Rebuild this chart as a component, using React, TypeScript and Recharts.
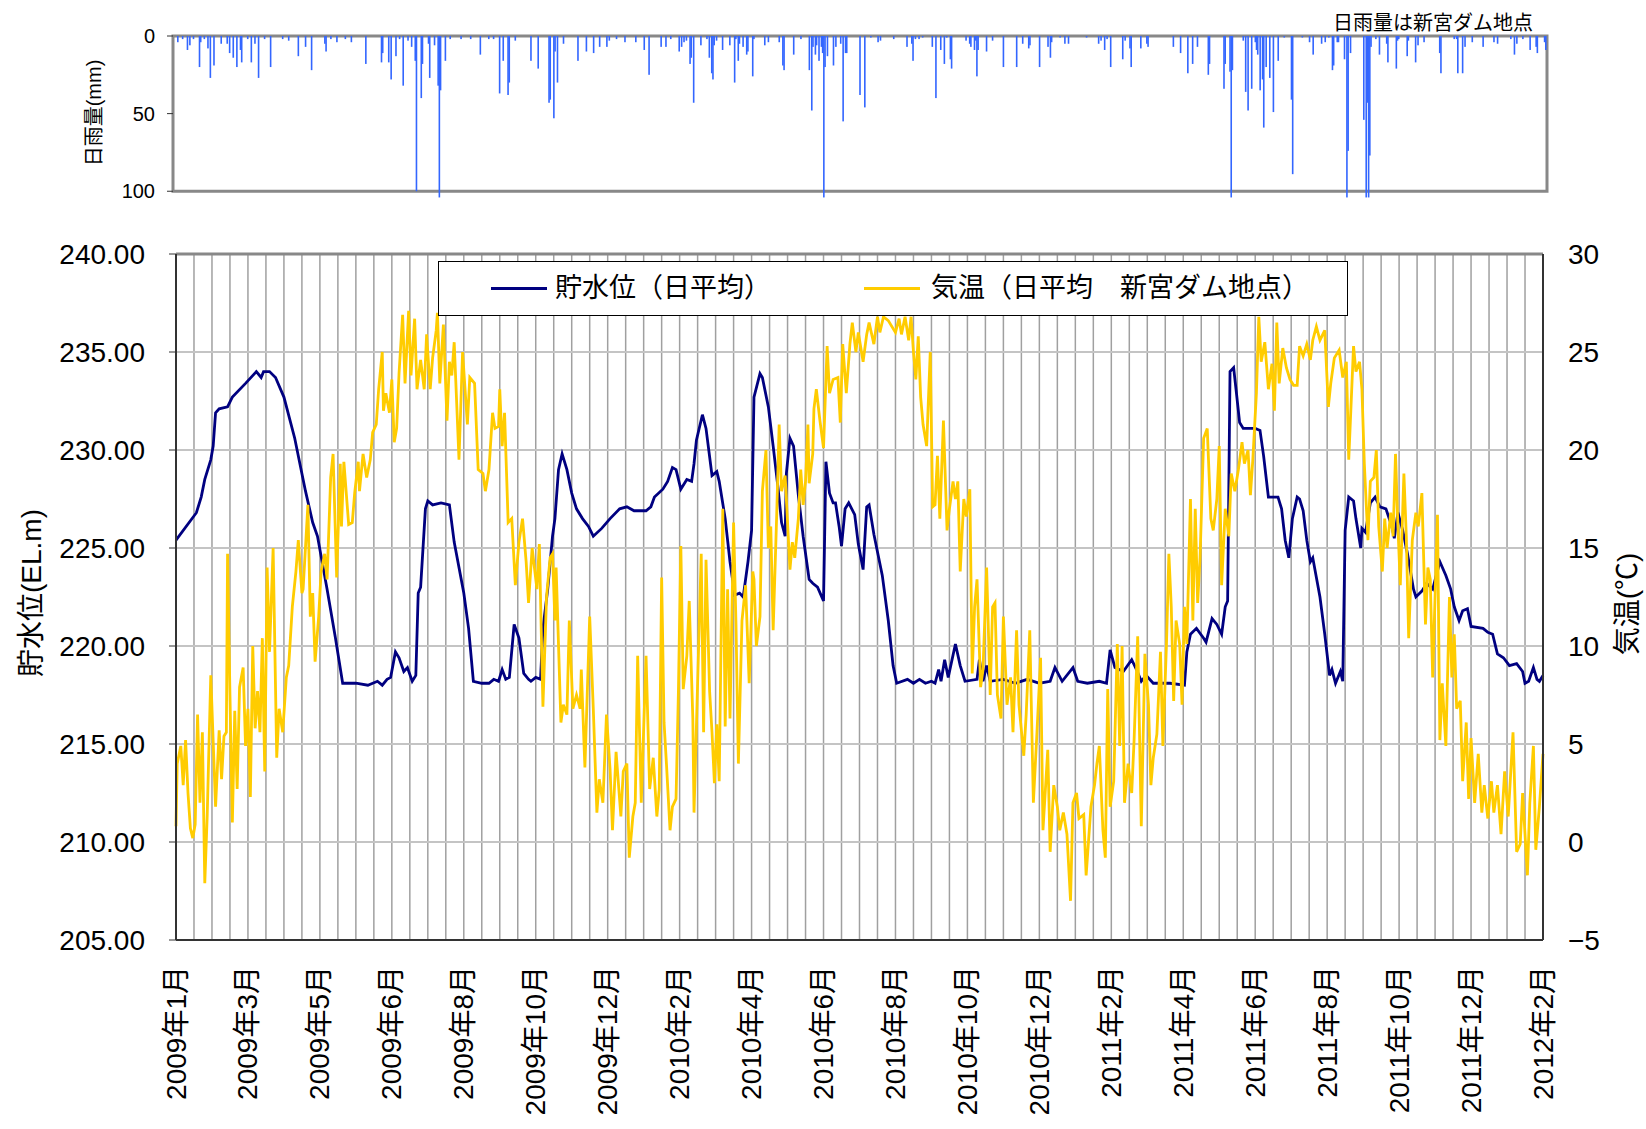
import React from "react";
import {
  ComposedChart,
  Bar,
  Line,
  XAxis,
  YAxis,
  CartesianGrid,
  ReferenceArea,
  ReferenceLine,
  Legend,
  Label,
} from "recharts";

const FONT = '"Liberation Sans", "Noto Sans CJK JP", sans-serif';
const NAVY = "#000080";
const GOLD = "#ffcc00";
const RAIN = "#3366ff";

// x = days since 2009-01-01; a label every 60 days, a grid line every 15
const xLabels = [
  "2009年1月", "2009年3月", "2009年5月", "2009年6月", "2009年8月", "2009年10月", "2009年12月",
  "2010年2月", "2010年4月", "2010年6月", "2010年8月", "2010年10月", "2010年12月",
  "2011年2月", "2011年4月", "2011年6月", "2011年8月", "2011年10月", "2011年12月", "2012年2月",
];
const seriesNames = ["貯水位（日平均）", "気温（日平均　新宮ダム地点）"];
const levelTicks = [205, 210, 215, 220, 225, 230, 235, 240];
const tempTicks = [-5, 0, 5, 10, 15, 20, 25, 30];
const rainTicks = [0, 50, 100];

// 貯水位 (EL.m), [day, value]
const level: [number, number][] = [
  [0, 225.4], [17, 226.8], [21, 227.6], [24, 228.5], [29, 229.5], [31, 230.2], [33, 231.9], [36, 232.1],
  [43, 232.2], [47, 232.7], [58, 233.4], [67, 234.0], [71, 233.7], [73, 234.0], [78, 234.0], [83, 233.7],
  [90, 232.7], [99, 230.6], [108, 227.9], [114, 226.3], [118, 225.6], [126, 222.9], [133, 220.4], [139, 218.1],
  [150, 218.1], [160, 218.0], [168, 218.2], [172, 218.0], [176, 218.3], [179, 218.4], [183, 219.7], [186, 219.4],
  [190, 218.7], [193, 218.9], [197, 218.2], [200, 218.5], [202, 222.7], [204, 223.0], [208, 227.0], [210, 227.4],
  [214, 227.2], [221, 227.3], [228, 227.2], [232, 225.3], [240, 222.7], [244, 220.9], [248, 218.2], [255, 218.1],
  [261, 218.1], [265, 218.3], [269, 218.2], [272, 218.8], [275, 218.3], [278, 218.4], [282, 221.1], [286, 220.4],
  [290, 218.6], [294, 218.3], [296, 218.2], [300, 218.4], [304, 218.3], [306, 220.9], [310, 222.9], [314, 225.6],
  [316, 226.5], [319, 229.0], [322, 229.8], [326, 229.0], [330, 227.8], [334, 227.0], [339, 226.5], [344, 226.1],
  [348, 225.6], [355, 226.0], [362, 226.5], [370, 227.0], [376, 227.1], [382, 226.9], [392, 226.9], [396, 227.1],
  [399, 227.6], [406, 228.0], [410, 228.4], [414, 229.1], [417, 229.0], [421, 228.0], [426, 228.5], [430, 228.4],
  [432, 229.3], [434, 230.5], [439, 231.8], [442, 231.1], [447, 228.7], [451, 228.9], [453, 228.4], [458, 226.5],
  [462, 224.3], [466, 222.6], [470, 222.7], [473, 222.5], [477, 224.3], [480, 225.9], [482, 232.7], [487, 233.9],
  [489, 233.7], [494, 232.2], [498, 230.2], [502, 228.1], [505, 226.3], [508, 225.6], [509, 228.8], [512, 230.6],
  [515, 230.2], [519, 227.7], [523, 225.6], [528, 223.4], [531, 223.2], [535, 223.0], [540, 222.3], [542, 229.4],
  [545, 227.8], [548, 227.3], [550, 227.3], [553, 226.1], [555, 225.1], [558, 227.0], [561, 227.3], [566, 226.7],
  [569, 225.2], [573, 223.9], [576, 227.1], [578, 227.2], [582, 225.7], [589, 223.6], [594, 221.3], [598, 219.0],
  [601, 218.1], [610, 218.3], [615, 218.1], [620, 218.3], [625, 218.1], [630, 218.2], [633, 218.1], [636, 218.8],
  [638, 218.2], [641, 219.3], [644, 218.4], [650, 220.1], [654, 219.0], [658, 218.2], [668, 218.3], [670, 219.3],
  [673, 218.2], [676, 219.0], [679, 218.2], [690, 218.3], [700, 218.1], [710, 218.3], [720, 218.1], [729, 218.2],
  [733, 218.9], [739, 218.2], [748, 218.9], [752, 218.2], [760, 218.1], [770, 218.2], [776, 218.1], [779, 219.8],
  [783, 218.9], [790, 218.7], [797, 219.3], [801, 218.8], [805, 218.2], [809, 218.5], [815, 218.1], [829, 218.1],
  [841, 218.0], [843, 219.7], [846, 220.6], [851, 220.9], [857, 220.4], [859, 220.2], [864, 221.4], [868, 221.1],
  [872, 220.6], [875, 222.0], [877, 222.3], [879, 234.0], [882, 234.2], [884, 233.1], [887, 231.4], [890, 231.1],
  [896, 231.1], [900, 231.1], [904, 231.0], [907, 229.7], [911, 227.6], [919, 227.6], [922, 227.0], [925, 225.4],
  [928, 224.5], [931, 226.5], [935, 227.6], [937, 227.5], [940, 226.9], [943, 225.4], [946, 224.3], [948, 224.5],
  [954, 222.5], [958, 220.6], [962, 218.5], [964, 218.8], [967, 218.1], [971, 218.7], [973, 218.2], [975, 225.9],
  [978, 227.6], [982, 227.4], [984, 226.5], [988, 225.0], [989, 226.0], [992, 225.8], [996, 227.3], [1000, 227.6],
  [1004, 227.1], [1009, 227.0], [1014, 226.1], [1016, 225.5], [1019, 226.8], [1023, 225.9], [1027, 224.7], [1032, 222.9],
  [1034, 222.5], [1039, 222.8], [1043, 223.2], [1048, 222.9], [1054, 224.3], [1059, 223.6], [1063, 222.9], [1066, 222.0],
  [1070, 221.3], [1073, 221.8], [1077, 221.9], [1080, 221.0], [1090, 220.9], [1094, 220.7], [1098, 220.6], [1102, 219.6],
  [1107, 219.4], [1112, 219.0], [1118, 219.1], [1123, 218.7], [1125, 218.1], [1128, 218.2], [1132, 218.9], [1135, 218.3],
  [1137, 218.2], [1140, 218.5],
];

// 気温 (°C), [day, value]
const temp: [number, number][] = [
  [0, 0.8], [1, 4.0], [4, 4.9], [6, 2.9], [8, 5.2], [10, 2.5], [12, 0.7], [14, 0.2], [16, 0.9], [18, 6.5],
  [20, 2.0], [22, 5.6], [24, -2.1], [26, 1.3], [29, 8.5], [33, 1.8], [36, 5.7], [38, 3.2], [40, 5.4], [42, 5.6],
  [43, 14.7], [45, 7.5], [47, 1.0], [49, 6.7], [51, 2.7], [53, 7.9], [56, 8.9], [58, 4.9], [60, 6.8], [62, 2.3],
  [64, 10.0], [66, 5.8], [68, 7.7], [70, 5.6], [72, 10.4], [74, 3.6], [76, 14.0], [78, 9.7], [81, 15.0], [84, 4.3],
  [86, 6.8], [89, 5.6], [92, 8.4], [94, 9.0], [97, 12.0], [100, 13.8], [102, 15.4], [105, 12.7], [106, 12.9], [110, 17.2],
  [112, 11.5], [114, 12.7], [116, 9.2], [119, 11.5], [121, 13.8], [124, 14.7], [126, 13.4], [129, 18.6], [131, 19.8], [134, 13.5],
  [137, 19.3], [138, 16.1], [140, 19.4], [144, 16.2], [147, 16.3], [149, 17.8], [152, 19.4], [153, 17.9], [156, 19.8], [159, 18.6],
  [162, 19.5], [164, 20.9], [167, 21.3], [169, 23.1], [172, 25.0], [173, 22.0], [175, 22.9], [178, 21.9], [180, 23.6], [182, 20.4],
  [184, 21.1], [186, 23.9], [189, 26.9], [191, 23.4], [194, 27.1], [196, 23.8], [199, 26.7], [201, 23.1], [204, 24.6], [207, 23.1],
  [209, 25.9], [212, 23.1], [214, 24.7], [217, 26.1], [218, 27.0], [220, 23.4], [223, 26.4], [226, 21.5], [228, 24.5], [230, 23.8],
  [232, 25.5], [236, 19.5], [239, 25.0], [243, 21.3], [245, 23.7], [249, 23.4], [252, 19.0], [256, 18.8], [258, 17.9], [261, 19.0],
  [264, 21.9], [266, 21.1], [269, 21.2], [270, 23.1], [272, 20.2], [274, 21.9], [277, 16.3], [280, 16.5], [283, 13.1], [286, 15.3],
  [289, 16.5], [292, 14.3], [294, 12.2], [297, 15.0], [301, 12.9], [303, 15.2], [306, 6.9], [309, 12.5], [312, 14.5], [314, 14.7],
  [316, 11.3], [317, 14.0], [321, 6.1], [323, 7.0], [326, 6.5], [328, 11.3], [331, 6.8], [334, 7.5], [337, 6.8], [338, 8.8],
  [341, 3.8], [345, 11.5], [348, 6.8], [351, 1.5], [353, 3.2], [356, 2.0], [359, 6.5], [362, 3.7], [364, 0.6], [367, 4.6],
  [371, 1.3], [373, 3.6], [376, 4.0], [378, -0.8], [381, 1.3], [383, 2.0], [385, 9.5], [388, 2.0], [392, 9.5], [395, 2.7],
  [398, 4.3], [401, 1.3], [403, 2.7], [405, 13.5], [407, 6.1], [409, 4.0], [412, 0.6], [414, 1.8], [417, 2.2], [419, 7.7],
  [421, 15.1], [423, 7.8], [426, 9.5], [428, 12.3], [431, 6.3], [432, 1.5], [435, 8.1], [438, 14.7], [440, 5.6], [442, 14.4],
  [445, 7.7], [447, 5.6], [449, 3.0], [451, 6.0], [453, 3.1], [456, 17.0], [458, 5.9], [460, 12.9], [462, 6.3], [465, 16.3],
  [467, 11.1], [469, 4.0], [472, 11.3], [475, 13.1], [478, 8.1], [481, 13.8], [482, 13.4], [484, 10.0], [487, 11.5], [489, 17.9],
  [492, 20.0], [494, 15.0], [496, 16.1], [498, 10.8], [501, 16.8], [503, 21.3], [505, 17.9], [508, 18.7], [512, 13.9], [514, 15.3],
  [516, 14.5], [519, 16.5], [521, 19.0], [523, 17.2], [525, 18.4], [527, 21.3], [528, 18.3], [531, 19.8], [532, 22.1], [534, 23.1],
  [537, 21.5], [540, 20.1], [543, 25.3], [545, 22.9], [548, 23.6], [552, 23.7], [554, 21.4], [556, 25.4], [559, 22.9], [562, 25.4],
  [564, 26.5], [567, 25.0], [569, 26.0], [573, 24.5], [576, 25.9], [578, 26.5], [582, 25.4], [585, 26.8], [587, 26.0], [590, 26.8],
  [594, 26.6], [600, 26.0], [603, 26.7], [605, 25.9], [608, 26.8], [611, 25.6], [613, 26.8], [615, 25.0], [617, 23.6], [619, 25.8],
  [621, 22.7], [623, 21.3], [626, 20.2], [629, 25.0], [631, 17.1], [633, 17.2], [635, 19.7], [637, 16.5], [640, 21.5], [643, 15.9],
  [645, 17.0], [648, 18.4], [650, 17.5], [652, 18.4], [654, 13.8], [657, 17.5], [659, 16.6], [662, 18.0], [664, 8.6], [666, 12.0],
  [668, 13.4], [671, 7.9], [673, 8.8], [676, 14.0], [679, 7.5], [681, 12.0], [683, 12.2], [685, 7.5], [688, 6.3], [690, 11.5],
  [693, 7.0], [696, 8.4], [698, 5.6], [701, 10.8], [703, 7.0], [707, 4.4], [709, 6.5], [712, 10.8], [715, 2.0], [718, 5.6],
  [721, 9.4], [723, 0.6], [727, 4.7], [729, -0.5], [732, 2.9], [735, 1.8], [737, 0.6], [740, 1.5], [743, 0.4], [746, -3.0],
  [748, 2.0], [751, 2.5], [753, 1.2], [757, 1.4], [759, -1.7], [763, 1.8], [766, 2.9], [768, 4.0], [770, 4.9], [773, 0.6],
  [775, -0.8], [777, 7.8], [779, 1.8], [782, 3.1], [785, 10.1], [787, 4.9], [789, 10.0], [791, 2.0], [794, 4.0], [797, 2.5],
  [799, 5.2], [802, 10.5], [805, 0.8], [808, 9.6], [811, 7.0], [813, 2.9], [815, 4.3], [818, 5.5], [821, 9.7], [823, 4.9],
  [826, 10.1], [828, 14.7], [830, 12.0], [832, 7.2], [834, 11.3], [837, 10.1], [839, 7.0], [841, 12.0], [843, 10.1], [846, 17.5],
  [848, 11.3], [850, 17.0], [852, 12.2], [854, 14.5], [857, 20.6], [860, 21.1], [863, 16.5], [865, 15.9], [868, 17.5], [870, 20.2],
  [872, 13.1], [875, 17.0], [878, 15.6], [880, 18.8], [883, 17.9], [886, 19.0], [889, 20.4], [891, 19.3], [894, 20.0], [896, 17.7],
  [898, 19.5], [901, 22.9], [903, 26.8], [905, 24.5], [908, 25.5], [911, 23.1], [914, 24.4], [916, 22.0], [918, 26.5], [920, 23.4],
  [923, 25.2], [926, 24.2], [929, 23.6], [932, 23.3], [935, 23.3], [937, 25.3], [940, 24.8], [943, 25.4], [946, 24.6], [948, 25.6],
  [951, 26.3], [954, 25.6], [958, 26.1], [961, 22.2], [963, 23.4], [966, 24.7], [970, 25.1], [973, 23.7], [976, 24.5], [978, 19.5],
  [982, 25.3], [984, 24.0], [987, 24.5], [989, 23.1], [991, 19.3], [994, 15.4], [996, 18.4], [999, 18.6], [1001, 20.0], [1003, 16.1],
  [1006, 13.8], [1008, 16.5], [1010, 15.0], [1013, 16.8], [1015, 15.6], [1017, 19.8], [1019, 16.1], [1021, 13.1], [1024, 18.8], [1026, 15.6],
  [1028, 10.4], [1031, 15.4], [1034, 16.8], [1036, 16.1], [1039, 17.8], [1042, 11.1], [1044, 14.0], [1046, 13.4], [1048, 8.4], [1052, 16.7],
  [1054, 5.2], [1056, 8.1], [1059, 4.9], [1062, 12.5], [1064, 8.4], [1066, 10.6], [1068, 6.8], [1071, 7.2], [1073, 3.1], [1076, 6.1],
  [1078, 2.2], [1080, 5.3], [1083, 2.0], [1086, 4.5], [1089, 1.5], [1091, 2.9], [1094, 1.2], [1097, 3.1], [1099, 1.5], [1102, 2.9],
  [1105, 0.4], [1108, 3.6], [1111, 1.3], [1115, 5.6], [1118, -0.5], [1121, -0.1], [1123, 2.5], [1127, -1.7], [1129, 2.0], [1132, 4.9],
  [1134, -0.4], [1137, 1.8], [1140, 4.5],
];

// 日雨量 (mm), [day, value]
const rain: [number, number][] = [
  [4, 4], [8, 2], [12, 9], [14, 6], [17, 2], [22, 20], [23, 4], [26, 2], [29, 8], [31, 27], [34, 19], [40, 5], [45, 5],
  [47, 11], [50, 14], [53, 20], [56, 9], [57, 17], [62, 2], [65, 17], [68, 5], [71, 27], [76, 2], [81, 20], [91, 2], [96, 3],
  [104, 13], [110, 7], [115, 22], [126, 5], [127, 10], [131, 2], [136, 4], [143, 2], [148, 4], [160, 18], [173, 17], [174, 11],
  [179, 17], [181, 28], [185, 13], [188, 2], [191, 32], [195, 3], [198, 7], [201, 16], [202, 100], [206, 40], [207, 18], [212, 5],
  [213, 27], [217, 6], [220, 32], [221, 104], [222, 35], [226, 16], [230, 2], [239, 2], [247, 2], [255, 12], [262, 2], [266, 2],
  [271, 37], [274, 16], [278, 38], [279, 30], [284, 3], [297, 16], [303, 21], [312, 43], [313, 41], [316, 53], [317, 10], [319, 30],
  [324, 5], [336, 16], [343, 10], [349, 11], [354, 7], [360, 7], [362, 3], [368, 2], [375, 4], [384, 4], [391, 9], [395, 25],
  [405, 7], [409, 7], [413, 2], [420, 10], [422, 7], [424, 4], [426, 3], [429, 18], [430, 14], [432, 43], [438, 6], [443, 2],
  [445, 14], [447, 24], [448, 28], [449, 6], [451, 3], [456, 9], [462, 6], [466, 30], [467, 2], [469, 16], [470, 5], [473, 7],
  [476, 12], [477, 10], [481, 26], [482, 2], [491, 6], [494, 4], [503, 4], [506, 19], [507, 22], [515, 12], [521, 2], [528, 22],
  [530, 48], [531, 7], [533, 12], [534, 6], [536, 16], [538, 7], [539, 11], [540, 104], [541, 20], [543, 13], [548, 19], [550, 7],
  [554, 5], [556, 55], [558, 11], [559, 11], [570, 38], [574, 46], [579, 1], [585, 4], [587, 3], [598, 2], [609, 7], [613, 5],
  [614, 16], [616, 2], [619, 2], [622, 1], [630, 7], [633, 40], [637, 9], [640, 18], [642, 1], [645, 15], [646, 21], [658, 3],
  [661, 5], [662, 7], [665, 9], [666, 3], [667, 26], [668, 9], [675, 10], [680, 3], [689, 20], [700, 20], [705, 5], [710, 8],
  [711, 6], [719, 20], [726, 7], [728, 14], [729, 4], [736, 1], [740, 5], [743, 5], [758, 1], [768, 5], [770, 3], [773, 9],
  [775, 2], [778, 20], [788, 15], [790, 3], [794, 8], [795, 20], [803, 8], [808, 5], [809, 7], [830, 7], [836, 11], [842, 24],
  [846, 18], [850, 7], [859, 25], [860, 18], [872, 34], [873, 18], [877, 23], [878, 104], [879, 22], [888, 3], [890, 36], [892, 48],
  [895, 34], [898, 4], [899, 9], [900, 12], [902, 35], [904, 28], [905, 59], [907, 20], [910, 27], [913, 49], [917, 16], [922, 1],
  [928, 41], [929, 89], [937, 1], [943, 4], [946, 12], [953, 5], [956, 4], [959, 1], [962, 22], [963, 19], [966, 4], [967, 4],
  [972, 15], [974, 104], [975, 74], [977, 11], [988, 54], [990, 104], [991, 43], [992, 104], [993, 77], [994, 7], [998, 2], [1001, 12],
  [1007, 5], [1008, 17], [1015, 21], [1016, 3], [1017, 2], [1024, 13], [1025, 3], [1031, 17], [1033, 6], [1038, 4], [1051, 11], [1052, 24],
  [1063, 2], [1065, 2], [1066, 24], [1070, 24], [1072, 7], [1078, 4], [1087, 7], [1096, 4], [1099, 5], [1110, 2], [1113, 12], [1115, 5],
  [1120, 2], [1126, 9], [1131, 7], [1132, 11], [1138, 4], [1139, 9],
];

const levelData = level.map(([d, v]) => ({ d, v }));
const tempData = temp.map(([d, v]) => ({ d, v }));
const rainData = rain.map(([d, mm]) => ({ d, mm }));
const dayTicks = Array.from({ length: 77 }, (_, i) => i * 15);

const fmtTemp = (v: number) => (v < 0 ? `−${Math.abs(v)}` : String(v));

function MonthTick(props: any) {
  const { x, payload } = props;
  const d = payload.value as number;
  if (d % 60 !== 0) return <g />;
  const y = 966;
  return (
    <text
      x={x}
      y={y}
      transform={`rotate(-90, ${x}, ${y})`}
      textAnchor="end"
      dominantBaseline="central"
      fontSize={28}
      fontFamily={FONT}
      fill="#000"
    >
      {xLabels[d / 60]}
    </text>
  );
}

function RainBar(props: any) {
  const { x, y, width, height } = props;
  if (!height) return null;
  const top = Math.min(y, y + height);
  return <rect x={x + width / 2 - 0.8} y={top} width={1.6} height={Math.abs(height)} fill={RAIN} />;
}

function rotatedLabel(text: string, cx: number, cy: number, size: number) {
  return () => (
    <text
      x={cx}
      y={cy}
      transform={`rotate(-90, ${cx}, ${cy})`}
      textAnchor="middle"
      dominantBaseline="central"
      fontSize={size}
      fontFamily={FONT}
      fill="#000"
    >
      {text}
    </text>
  );
}

function LegendBox(props: any) {
  const items = [...(props.payload || [])].sort(
    (a: any, b: any) => seriesNames.indexOf(a.value) - seriesNames.indexOf(b.value)
  );
  const spots = [
    { line: 52, text: 116 },
    { line: 425, text: 492 },
  ];
  return (
    <div
      style={{
        position: "relative",
        width: 908,
        height: 53,
        border: "1px solid #000",
        background: "#fff",
        fontFamily: FONT,
        fontSize: 27,
        color: "#000",
      }}
    >
      {items.map((it: any, i: number) => (
        <React.Fragment key={it.value}>
          <div
            style={{
              position: "absolute",
              left: spots[i].line,
              top: 25,
              width: 56,
              height: 3,
              background: it.color,
            }}
          />
          <div style={{ position: "absolute", left: spots[i].text, top: 8, whiteSpace: "nowrap", lineHeight: "36px" }}>
            {it.value}
          </div>
        </React.Fragment>
      ))}
    </div>
  );
}

export default function App() {
  return (
    <div style={{ position: "absolute", top: 0, left: 0, width: 1646, height: 1129, background: "#fff" }}>
      <div style={{ position: "absolute", top: 0, left: 0 }}>
        <ComposedChart width={1646} height={215} data={rainData} margin={{ top: 36, right: 99, bottom: 16, left: 113 }}>
          <XAxis dataKey="d" type="number" domain={[0, 1140]} hide />
          <YAxis
            reversed
            type="number"
            domain={[0, 105]}
            ticks={rainTicks}
            width={60}
            axisLine={false}
            tickSize={6}
            tickMargin={12}
            tickLine={{ stroke: "#333" }}
            tick={{ fontSize: 20, fontFamily: FONT, fill: "#000" }}
          >
            <Label content={rotatedLabel("日雨量(mm)", 94, 113, 20)} />
          </YAxis>
          <Bar dataKey="mm" fill={RAIN} shape={<RainBar />} isAnimationActive={false} />
          <ReferenceArea y1={0} y2={100} fill="none" fillOpacity={0} stroke="#888" strokeWidth={3} />
        </ComposedChart>
      </div>
      <div
        style={{
          position: "absolute",
          top: 7,
          left: 1333,
          width: 200,
          textAlign: "right",
          fontSize: 20,
          fontFamily: FONT,
          whiteSpace: "nowrap",
        }}
      >
        日雨量は新宮ダム地点
      </div>
      <div style={{ position: "absolute", top: 0, left: 0 }}>
        <ComposedChart width={1646} height={1129} margin={{ top: 254, right: 3, bottom: 9, left: 76 }}>
          <CartesianGrid yAxisId="lv" horizontal={false} stroke="#a0a0a0" strokeWidth={1.5} />
          <CartesianGrid yAxisId="lv" vertical={false} stroke="#c4c4c4" strokeWidth={2} />
          <XAxis
            dataKey="d"
            type="number"
            domain={[0, 1140]}
            ticks={dayTicks}
            interval={0}
            height={180}
            tick={<MonthTick />}
            tickLine={false}
            axisLine={{ stroke: "#333", strokeWidth: 2 }}
          />
          <YAxis
            yAxisId="lv"
            type="number"
            domain={[205, 240]}
            ticks={levelTicks}
            width={100}
            tickFormatter={(v: number) => v.toFixed(2)}
            tickSize={7}
            tickMargin={24}
            tickLine={{ stroke: "#333" }}
            axisLine={{ stroke: "#333", strokeWidth: 2 }}
            tick={{ fontSize: 28, fontFamily: FONT, fill: "#000" }}
          >
            <Label content={rotatedLabel("貯水位(EL.m)", 31, 593, 28)} />
          </YAxis>
          <YAxis
            yAxisId="t"
            orientation="right"
            type="number"
            domain={[-5, 30]}
            ticks={tempTicks}
            width={100}
            tickFormatter={fmtTemp}
            tickLine={false}
            tickSize={0}
            tickMargin={25}
            axisLine={{ stroke: "#333", strokeWidth: 2 }}
            tick={{ fontSize: 28, fontFamily: FONT, fill: "#000" }}
          >
            <Label content={rotatedLabel("気温(℃)", 1627, 604, 28)} />
          </YAxis>
          <ReferenceLine yAxisId="lv" y={240} stroke="#888" strokeWidth={3} />
          <Line
            yAxisId="lv"
            data={levelData}
            dataKey="v"
            name={seriesNames[0]}
            type="linear"
            stroke={NAVY}
            strokeWidth={2.8}
            dot={false}
            activeDot={false}
            isAnimationActive={false}
          />
          <Line
            yAxisId="t"
            data={tempData}
            dataKey="v"
            name={seriesNames[1]}
            type="linear"
            stroke={GOLD}
            strokeWidth={2.8}
            dot={false}
            activeDot={false}
            isAnimationActive={false}
          />
          <Legend
            layout="vertical"
            align="center"
            verticalAlign="middle"
            content={<LegendBox />}
            wrapperStyle={{ top: 261, left: 438, width: 910, height: 55 }}
          />
        </ComposedChart>
      </div>
    </div>
  );
}
